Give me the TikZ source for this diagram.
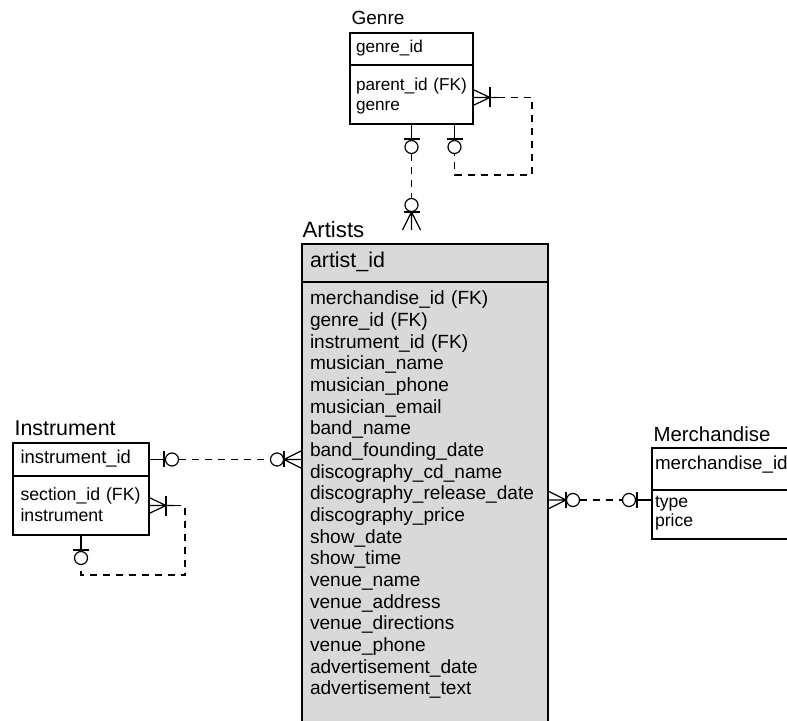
\documentclass[tikz,border=0pt]{standalone}
\usepackage{fontspec}
\setmainfont{Liberation Sans}
\definecolor{artistFill}{RGB}{217,217,217}

\tikzset{
  tabbox/.style={draw, anchor=north west, outer sep=0pt, inner ysep=0pt, inner xsep=3.5pt, align=left},
  tabtitle/.style={anchor=base west, inner sep=0pt},
  link/.style={dash pattern=on 3.5pt off 3pt},
  pics/zeroone/.style={code={
    \draw (0,0) -- (30,0);
    \draw (15,-8) -- (15,8);
    \draw[fill=white] (23,0) circle[radius=6.5];
  }},
  pics/zeromany/.style={code={
    \draw (0,-9) -- (18,0) -- (0,9) (0,0) -- (31,0);
    \draw (18,-8) -- (18,8);
    \draw[fill=white] (25,0) circle[radius=6.5];
  }},
  pics/onemany/.style={code={
    \draw (0,-8) -- (17,0) -- (0,8) (0,0) -- (25,0);
    \draw (17,-10) -- (17,10);
  }},
}

\begin{document}
\begin{tikzpicture}[x=0.5pt,y=-0.5pt,line width=0.6pt]
  \useasboundingbox (0,0) rectangle (787,721);
  \clip (0,0) rectangle (787,721);

  \node[tabbox, inner xsep=3pt, text width=55.5pt, text height=10pt, text depth=6pt,
        font=\fontsize{8.6}{9.75}\selectfont] (genrekey) at (350,33) {genre\_id};
  \node[tabbox, inner xsep=3pt, text width=55.5pt, text height=13pt, text depth=16.5pt,
        font=\fontsize{8.6}{9.75}\selectfont] (genreattr) at (genrekey.south west)
        {parent\_id~(FK)\\genre};
  \node[tabtitle, font=\fontsize{9.5}{11}\selectfont] (genretitle)
        at ([xshift=0.5pt,yshift=4pt]genrekey.north west) {Genre};

  \node[tabbox, fill=artistFill, inner xsep=4pt, text width=115pt, text height=12pt,
        text depth=7pt, font=\fontsize{10.7}{12}\selectfont] (artistkey) at (302,244) {artist\_id};
  \node[tabbox, fill=artistFill, inner xsep=4pt, text width=115pt, text height=11.5pt,
        text depth=230pt, font=\fontsize{9.55}{10.83}\selectfont] (artistattr) at (artistkey.south west)
        {merchandise\_id (FK)\\genre\_id (FK)\\instrument\_id (FK)\\musician\_name\\musician\_phone\\
         musician\_email\\band\_name\\band\_founding\_date\\discography\_cd\_name\\
         discography\_release\_date\\discography\_price\\show\_date\\show\_time\\venue\_name\\
         venue\_address\\venue\_directions\\venue\_phone\\advertisement\_date\\advertisement\_text};
  \node[tabtitle, font=\fontsize{11.1}{13}\selectfont] (artisttitle)
        at ([yshift=3pt]artistkey.north west) {Artists};

  \node[tabbox, inner xsep=3.75pt, text width=60.5pt, text height=10.5pt, text depth=6pt,
        font=\fontsize{9.2}{10.25}\selectfont] (instkey) at (13,443) {instrument\_id};
  \node[tabbox, inner xsep=3.75pt, text width=60.5pt, text height=12.5pt, text depth=17pt,
        font=\fontsize{8.85}{10.25}\selectfont] (instattr) at (instkey.south west)
        {section\_id (FK)\\instrument};
  \node[tabtitle, font=\fontsize{10.7}{12}\selectfont] (insttitle)
        at ([xshift=0.5pt,yshift=3.5pt]instkey.north west) {Instrument};

  \node[tabbox, inner xsep=1.5pt, text width=80pt, text height=11pt, text depth=10pt,
        font=\fontsize{9.4}{10.25}\selectfont] (merchkey) at (652,448) {merchandise\_id};
  \node[tabbox, inner xsep=1.5pt, text width=80pt, text height=8.5pt, text depth=16pt,
        font=\fontsize{8.8}{9.75}\selectfont] (merchattr) at (merchkey.south west)
        {type\\price};
  \node[tabtitle, font=\fontsize{10.2}{12}\selectfont] (merchtitle)
        at ([xshift=0.5pt,yshift=3pt]merchkey.north west) {Merchandise};

  \coordinate (artistfoot) at (genreattr.south |- 0,230);
  \coordinate (merchlink) at ([yshift=-5pt]merchattr.north west);
  \coordinate (genreloop) at (532,175);
  \coordinate (instloop) at (185,575);

  \pic[rotate=-90] at (genreattr.south) {zeroone};
  \pic[rotate=90] at (artistfoot) {zeromany};
  \draw[link] ([yshift=-15pt]genreattr.south) -- ([yshift=15.75pt]artistfoot);

  \pic at ([yshift=-1.5pt]genreattr.east) {onemany};
  \pic[rotate=-90] at ([xshift=21.5pt]genreattr.south) {zeroone};
  \draw[link] ([xshift=12.5pt,yshift=-1.5pt]genreattr.east) -| (genreloop)
    -| ([xshift=21.5pt,yshift=-15pt]genreattr.south);

  \pic at (instkey.east) {zeroone};
  \pic[rotate=180] at (artistattr.west |- instkey.east) {zeromany};
  \draw[link] ([xshift=15pt]instkey.east) -- ([xshift=-15.75pt]artistattr.west |- instkey.east);

  \pic at (instattr.east) {onemany};
  \pic[rotate=-90] at (instattr.south) {zeroone};
  \draw[link] ([xshift=12.5pt]instattr.east) -| (instloop) -| ([yshift=-15pt]instattr.south);

  \pic at (artistattr.east |- merchlink) {zeromany};
  \pic[rotate=180] at (merchlink) {zeroone};
  \draw[link] ([xshift=15.75pt]artistattr.east |- merchlink) -- ([xshift=-15pt]merchlink);
\end{tikzpicture}
\end{document}
